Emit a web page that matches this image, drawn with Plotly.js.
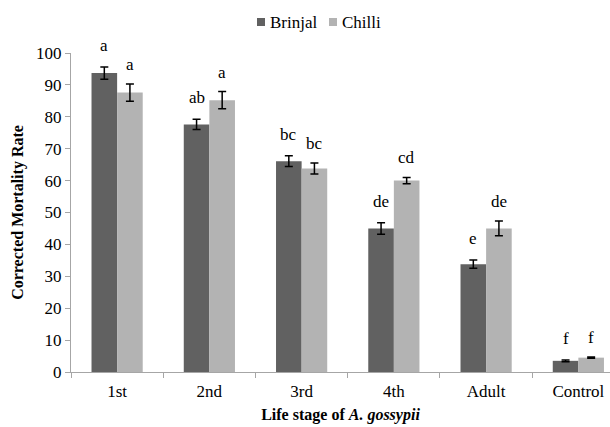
<!DOCTYPE html>
<html>
<head>
<meta charset="utf-8">
<script src="https://cdn.plot.ly/plotly-3.0.1.min.js"></script>
<style>html,body{margin:0;padding:0;background:#fff;}#chart{width:610px;height:427px;}</style>
</head>
<body>
<div id="chart"></div>
<script>
const categories = ["1st", "2nd", "3rd", "4th", "Adult", "Control"];
const brinjalValues = [93.7, 77.6, 66.1, 45.0, 33.8, 3.5];
const brinjalErrors = [1.9, 1.6, 1.7, 1.8, 1.3, 0.3];
const chilliValues = [87.6, 85.2, 63.8, 60.0, 45.0, 4.5];
const chilliErrors = [2.7, 2.7, 1.7, 1.0, 2.3, 0.2];
const brinjalLetters = ["a", "ab", "bc", "de", "e", "f"];
const chilliLetters = ["a", "a", "bc", "cd", "de", "f"];
const seriesNames = ["Brinjal", "Chilli"];
const seriesColors = ["#616161", "#b3b3b3"];

const font = "'Liberation Serif', 'Times New Roman', serif";

const traces = [
  {
    type: "bar", name: seriesNames[0], x: categories, y: brinjalValues,
    marker: {color: seriesColors[0]}, showlegend: false,
    error_y: {type: "data", array: brinjalErrors, visible: true, color: "#000", thickness: 1.5, width: 4}
  },
  {
    type: "bar", name: seriesNames[1], x: categories, y: chilliValues,
    marker: {color: seriesColors[1]}, showlegend: false,
    error_y: {type: "data", array: chilliErrors, visible: true, color: "#000", thickness: 1.5, width: 4}
  }
];

const bargap = 0.445;
const off = (1 - bargap) / 4;
const annotations = [];
categories.forEach((c, i) => {
  annotations.push({x: i - off, y: brinjalValues[i] + brinjalErrors[i], xref: "x", yref: "y",
    text: brinjalLetters[i], showarrow: false, yanchor: "bottom", yshift: 10,
    font: {family: font, size: 17, color: "#000"}});
  annotations.push({x: i + off, y: chilliValues[i] + chilliErrors[i], xref: "x", yref: "y",
    text: chilliLetters[i], showarrow: false, yanchor: "bottom", yshift: 8,
    font: {family: font, size: 17, color: "#000"}});
});

// custom legend (small square swatches, as in the reference)
const W = 610, H = 427;
const L = 71, T = 53, PH = 319;
const legendX = [257, 329];
const shapes = [];
seriesNames.forEach((n, k) => {
  shapes.push({type: "rect", xref: "paper", yref: "paper",
    x0: (legendX[k] - L) / (W - L), x1: (legendX[k] + 8 - L) / (W - L),
    y0: (T + PH - 26) / PH, y1: (T + PH - 18) / PH,
    line: {width: 0}, fillcolor: seriesColors[k]});
  annotations.push({xref: "paper", yref: "paper",
    x: (legendX[k] + 11 - L) / (W - L), y: (T + PH - 22) / PH,
    xanchor: "left", yanchor: "middle", showarrow: false, text: n,
    font: {family: font, size: 17, color: "#000"}});
});

const layout = {
  width: W, height: H,
  margin: {l: L, r: 0, t: T, b: H - T - PH},
  paper_bgcolor: "#fff", plot_bgcolor: "#fff",
  font: {family: font, size: 16, color: "#000"},
  barmode: "group", bargap: bargap, bargroupgap: 0,
  showlegend: false,
  xaxis: {
    type: "category", range: [-0.5, 5.343], tickson: "boundaries",
    showline: true, linecolor: "#a6a6a6", linewidth: 1,
    ticks: "outside", ticklen: 5, tickcolor: "#a6a6a6",
    showgrid: false, zeroline: false, ticklabelstandoff: 4,
    tickfont: {family: font, size: 17},
    title: {text: "<b>Life stage of <i>A. gossypii</i></b>", font: {family: font, size: 16}, standoff: 8}
  },
  yaxis: {
    range: [0, 100], dtick: 10, showline: true, linecolor: "#a6a6a6", linewidth: 1,
    ticks: "outside", ticklen: 5, tickcolor: "#a6a6a6",
    showgrid: false, zeroline: false,
    tickfont: {family: font, size: 17},
    title: {text: "<b>Corrected Mortality Rate</b>", font: {family: font, size: 16}, standoff: 8}
  },
  shapes: shapes,
  annotations: annotations
};

Plotly.newPlot("chart", traces, layout, {displayModeBar: false, staticPlot: true});
</script>
</body>
</html>
